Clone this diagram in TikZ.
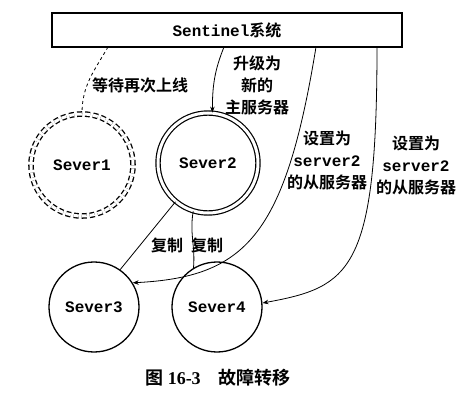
\documentclass[tikz,border=0pt]{standalone}
\usepackage{fontspec}
\setmainfont{Liberation Serif}
\setmonofont{Liberation Mono}
\newfontfamily\cjk{Noto Sans CJK SC}[BoldFont={Noto Sans CJK SC Bold}]
\usepackage{tikz}
\usetikzlibrary{arrows.meta,calc,positioning}

\tikzset{
  srv/.style={circle,draw,line width=1.3pt,minimum size=90pt,inner sep=0pt,
    font=\ttfamily\bfseries\fontsize{16}{22}\selectfont},
  lbl/.style={align=center,inner sep=0pt,font=\cjk\bfseries\fontsize{16}{22}\selectfont},
  link/.style={line width=0.8pt},
}

\begin{document}
\begin{tikzpicture}[x=1pt,y=1pt,>={Stealth[length=6pt,width=4.5pt]}]
  \useasboundingbox (0,0) rectangle (474,402);
  % sentinel
  \node[draw,line width=1.3pt,minimum width=350pt,minimum height=34pt,
    font=\ttfamily\bfseries\fontsize{16}{22}\selectfont] (sentinel) at (227,372)
    {Sentinel{\cjk 系统}};
  \coordinate (t1) at (108,355);
  \coordinate (t2) at (224,355);
  \coordinate (t3) at (316,355);
  \coordinate (t4) at (377,355);
  % servers
  \node[srv,minimum size=102pt,dash pattern=on 5pt off 3pt,double,double distance=3pt,line width=1.3pt] (s1) at (82,237) {Sever1};
  \node[srv,minimum size=100pt,double,double distance=3pt,line width=1.2pt] (s2) at (208,239) {Sever2};
  \node[srv] (s3) at (94,95) {Sever3};
  \node[srv] (s4) at (217,95) {Sever4};
  % connectors
  \draw[link,dashed] (t1) to[out=-120,in=90] (s1.north);
  \draw[link,->] (t2) to[out=-112,in=90] (s2.85);
  \draw[link,->] (t3) .. controls (285,165) and (245,125) .. (s3.32);
  \draw[link,->] (t4) .. controls (377,130) and (350,115) .. (s4.5);
  \draw[link] (s2.-130) -- (s3.55);
  \draw[link] (s2.-107) to[out=-100,in=85] (s4.121);
  % labels
  \node[lbl] (wait) at (140,317) {等待再次上线};
  \node[lbl] (promote) at (257,317) {升级为\\新的\\主服务器};
  \node[lbl] (slave1) at (327,242) {设置为\\{\ttfamily server2}\\的从服务器};
  \node[lbl] (slave2) at (416,237) {设置为\\{\ttfamily server2}\\的从服务器};
  \node[lbl] (copy1) at (167,157) {复制};
  \node[lbl] (copy2) at (207,157) {复制};
  \node[font=\bfseries\fontsize{18}{22}\selectfont] (caption) at (218,24)
    {{\cjk 图} 16-3\quad{\cjk 故障转移}};
\end{tikzpicture}
\end{document}
